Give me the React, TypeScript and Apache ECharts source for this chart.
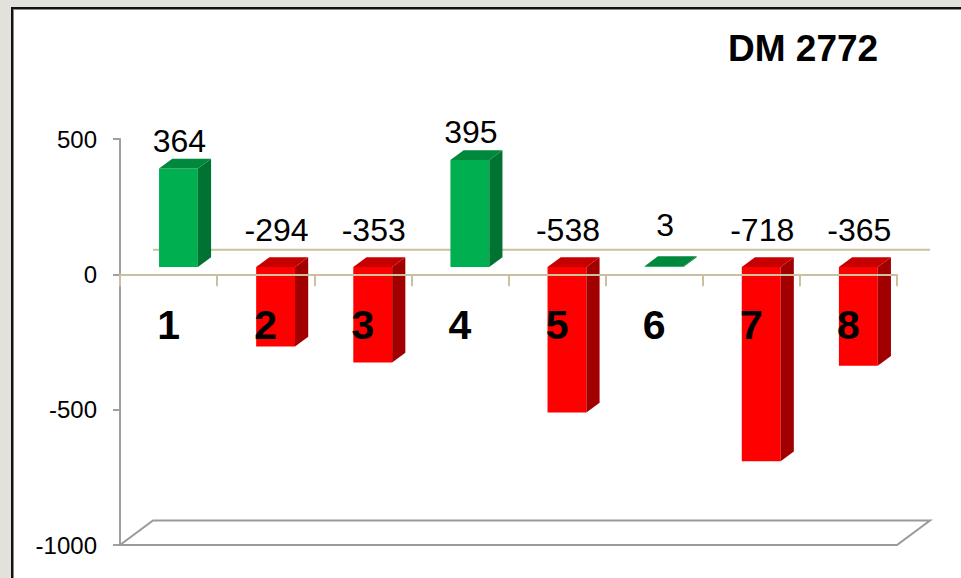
import React, { useEffect, useRef } from "react";
import * as echarts from "echarts";

const categories = ["1", "2", "3", "4", "5", "6", "7", "8"];
const values = [364, -294, -353, 395, -538, 3, -718, -365];
const yMin = -1000;
const yMax = 500;
const yInterval = 500;
const titleText = "DM 2772";

const FONT = "'Liberation Sans', Arial, Helvetica, sans-serif";
const DEPTH_X = 33;
const DEPTH_Y = -24.5;

const COLORS = {
  pos: { front: "#00b050", top: "#00883d", side: "#007332" },
  neg: { front: "#ff0000", top: "#c60000", side: "#a20000" },
};

export default function App() {
  const ref = useRef<HTMLDivElement>(null);

  useEffect(() => {
    if (!ref.current) return;
    const chart = echarts.init(ref.current, undefined, { renderer: "svg" });

    const frameRender = (params: any, api: any) => {
      const cs = params.coordSys;
      const zeroY = api.coord([0, 0])[1];
      const minY = api.coord([0, yMin])[1];
      const gx = cs.x;
      const gw = cs.width;
      return {
        type: "group",
        children: [
          {
            type: "line",
            shape: { x1: gx + DEPTH_X, y1: zeroY + DEPTH_Y, x2: gx + gw + DEPTH_X, y2: zeroY + DEPTH_Y },
            style: { stroke: "#c9c1a0", lineWidth: 2 },
          },
          {
            type: "polygon",
            shape: {
              points: [
                [gx, minY],
                [gx + gw, minY],
                [gx + gw + DEPTH_X, minY + DEPTH_Y],
                [gx + DEPTH_X, minY + DEPTH_Y],
              ],
            },
            style: { fill: "#ffffff", stroke: "#9a9a9a", lineWidth: 2 },
          },
        ],
      };
    };

    const barRender = (params: any, api: any) => {
      const idx = api.value(0);
      const v = api.value(1);
      const bandW = api.size([1, 0])[0];
      const c0 = api.coord([idx, 0]);
      const cv = api.coord([idx, v]);
      const barW = bandW * 0.4;
      const cx = c0[0] + DEPTH_X * 0.3;
      const x0 = cx - barW / 2;
      const x1 = cx + barW / 2;
      const yZero = c0[1] + DEPTH_Y * 0.3;
      const yVal = cv[1] + DEPTH_Y * 0.3;
      const top = Math.min(yZero, yVal);
      const bot = Math.max(yZero, yVal);
      const ddx = DEPTH_X * 0.4;
      const ddy = DEPTH_Y * 0.4;
      const col = v >= 0 ? COLORS.pos : COLORS.neg;
      const labelY =
        v >= 0 ? Math.min(top + ddy - 18, yZero + ddy - 32) : yZero + ddy - 27;
      const children: any[] = [];
      if (bot - top > 0.5) {
        children.push({
          type: "rect",
          shape: { x: x0, y: top, width: barW, height: bot - top },
          style: { fill: col.front },
        });
        children.push({
          type: "polygon",
          shape: {
            points: [
              [x1, top],
              [x1 + ddx, top + ddy],
              [x1 + ddx, bot + ddy],
              [x1, bot],
            ],
          },
          style: { fill: col.side },
        });
      }
      children.push({
        type: "polygon",
        shape: {
          points: [
            [x0, top],
            [x1, top],
            [x1 + ddx, top + ddy],
            [x0 + ddx, top + ddy],
          ],
        },
        style: { fill: col.top },
      });
      children.push({
        type: "text",
        style: {
          text: String(v),
          x: cx + 1,
          y: labelY,
          align: "center",
          verticalAlign: "middle",
          fontSize: 32,
          fontFamily: FONT,
          fill: "#000000",
        },
      });
      children.push({
        type: "text",
        style: {
          text: categories[idx],
          x: c0[0],
          y: c0[1] + 51,
          align: "center",
          verticalAlign: "middle",
          fontSize: 41,
          fontWeight: "bold",
          fontFamily: FONT,
          fill: "#000000",
        },
      });
      return { type: "group", children };
    };

    chart.setOption({
      animation: false,
      backgroundColor: "transparent",
      graphic: [
        {
          type: "text",
          left: 728,
          top: 30,
          style: {
            text: titleText,
            fontSize: 37,
            fontWeight: "bold",
            fontFamily: FONT,
            fill: "#000000",
          },
        },
      ],
      grid: {
        left: 120,
        right: 64,
        top: 139,
        bottom: 33,
        containLabel: false,
        outerBoundsMode: "none",
      },
      xAxis: {
        type: "category",
        data: categories,
        z: 5,
        axisLine: { onZero: true, lineStyle: { color: "#c9c1a0", width: 2 } },
        axisTick: { show: true, length: 12, lineStyle: { color: "#c9c1a0", width: 2 } },
        axisLabel: { show: false },
        splitLine: { show: false },
      },
      yAxis: {
        type: "value",
        min: yMin,
        max: yMax,
        interval: yInterval,
        axisLine: { show: true, lineStyle: { color: "#a0a0a0", width: 2 } },
        axisTick: { show: true, length: 7, lineStyle: { color: "#a0a0a0", width: 2 } },
        axisLabel: {
          fontSize: 24,
          fontFamily: FONT,
          color: "#000000",
          margin: 23,
          formatter: (val: number) => String(val),
        },
        splitLine: { show: false },
      },
      series: [
        {
          type: "custom",
          name: "frame",
          z: 1,
          silent: true,
          data: [[0, 0]],
          renderItem: frameRender,
        },
        {
          type: "custom",
          name: "DM 2772",
          z: 3,
          data: values.map((v, i) => [i, v]),
          encode: { x: 0, y: 1 },
          renderItem: barRender,
        },
      ],
    });

    return () => chart.dispose();
  }, []);

  return (
    <div
      style={{
        position: "fixed",
        left: 0,
        top: 0,
        width: 961,
        height: 578,
        overflow: "hidden",
        background: "#e3e1dc",
      }}
    >
      <div
        style={{
          position: "absolute",
          left: 11,
          top: 7,
          width: 1000,
          height: 700,
          background: "#ffffff",
          border: "2px solid #111111",
          boxShadow: "inset 1px 1px 0 #8a8a8a",
        }}
      />
      <div
        ref={ref}
        style={{ position: "absolute", left: 0, top: 0, width: 961, height: 578 }}
      />
    </div>
  );
}
